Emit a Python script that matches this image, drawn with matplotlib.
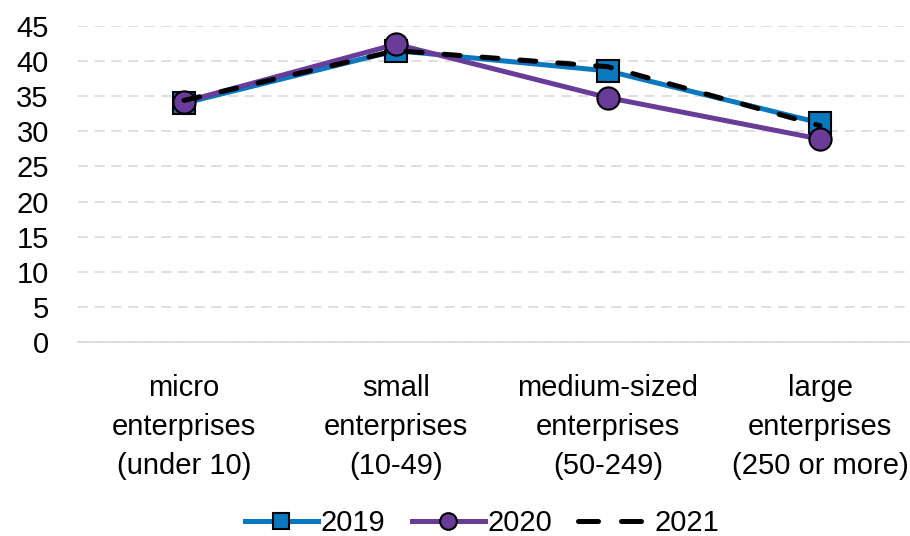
import matplotlib
matplotlib.use("Agg")
import matplotlib.pyplot as plt
from matplotlib.lines import Line2D

plt.rcParams['font.family'] = ['Liberation Sans', 'DejaVu Sans']

categories = ["micro\nenterprises\n(under 10)", "small\nenterprises\n(10-49)",
              "medium-sized\nenterprises\n(50-249)", "large\nenterprises\n(250 or more)"]
y2019 = [34.0, 41.5, 38.6, 31.2]
y2020 = [34.2, 42.4, 34.8, 28.9]
y2021 = [34.4, 41.5, 39.2, 30.8]
yticks = [0, 5, 10, 15, 20, 25, 30, 35, 40, 45]

c2019 = '#0A78BF'
c2020 = '#683C98'

fig = plt.figure(figsize=(9.1, 5.36), dpi=100)
ax = fig.add_axes([78/910, 1-342/536, (926-78)/910, (342-26)/536])

x = list(range(len(categories)))
ax.plot(x, y2019, color=c2019, lw=3.6, marker='s', markersize=15.5,
        markerfacecolor=c2019, markeredgecolor='black', markeredgewidth=1.5,
        solid_joinstyle='round', zorder=3)
ax.plot(x, y2020, color=c2020, lw=3.6, marker='o', markersize=16,
        markerfacecolor=c2020, markeredgecolor='black', markeredgewidth=1.5,
        solid_joinstyle='round', zorder=4)
ax.plot(x, y2021, color='black', lw=3.6, dashes=(3.2, 4.4),
        dash_capstyle='round', zorder=5)

ax.set_xlim(-0.5, len(categories) - 0.5)
ax.set_ylim(0, 45)
ax.set_yticks(yticks)
ax.set_xticks(x)
ax.set_xticklabels(categories, fontsize=21, linespacing=1.5)
ax.tick_params(axis='y', labelsize=21, length=0, pad=21)
ax.tick_params(axis='x', length=0, pad=23)
for s in ['top', 'right', 'left']:
    ax.spines[s].set_visible(False)
ax.spines['bottom'].set_color('#D9D9D9')
ax.spines['bottom'].set_linewidth(1.2)
ax.yaxis.grid(True, color='#D9D9D9', lw=1.2, dashes=(6, 4))
ax.set_axisbelow(True)

handles = [
    Line2D([], [], color=c2019, lw=3.6, marker='s', markersize=11,
           markerfacecolor=c2019, markeredgecolor='black', markeredgewidth=1.5),
    Line2D([], [], color=c2020, lw=3.6, marker='o', markersize=12,
           markerfacecolor=c2020, markeredgecolor='black', markeredgewidth=1.5),
    Line2D([], [], color='black', lw=3.6, dashes=(4.0, 4.6), dash_capstyle='round'),
]
fig.legend(handles, ['2019', '2020', '2021'], loc='center',
           bbox_to_anchor=(482/910, 1-523/536), ncol=3, frameon=False,
           fontsize=21, handlelength=2.5, handletextpad=0.1, columnspacing=0.9)

fig.savefig('out.png', dpi=100)
